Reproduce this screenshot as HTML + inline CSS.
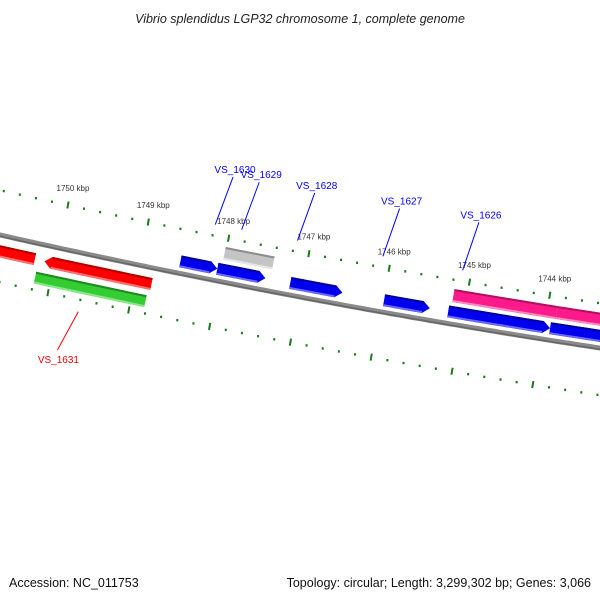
<!DOCTYPE html>
<html><head><meta charset="utf-8"><style>
body{margin:0;background:#fff;}
svg{display:block;font-family:"Liberation Sans",sans-serif;}
</style></head><body>
<svg id="map" width="600" height="600" viewBox="0 0 600 600">
<text x="300" y="23" text-anchor="middle" font-size="12.5" font-style="italic" fill="#222">Vibrio splendidus LGP32 chromosome 1, complete genome</text>
<text x="9" y="587" font-size="12.5" fill="#111">Accession: NC_011753</text>
<text x="591" y="587" text-anchor="end" font-size="12.5" fill="#111">Topology: circular; Length: 3,299,302 bp; Genes: 3,066</text>
<g id="ticks"></g><g id="backbone"></g><g id="feats"></g><g id="labels"></g>
</svg>
<script>
const tickLabels=[1750,1749,1748,1747,1746,1745,1744];
const featStart=[1750.85,1750.25,1750.32,1748.63,1748.17,1748.12,1747.26,1746.09,1745.26,1743.97,1745.29,1744.02];
const featEnd=[1750.37,1748.92,1748.95,1748.17,1747.57,1747.51,1746.61,1745.52,1743.97,1743.13,1744.02,1743.13];
const featTrack=["rev1","rev1","rev2","fwd1","fwd1","fwd2","fwd1","fwd1","fwd2","fwd2","fwd1","fwd1"];
const featColor=["red","red","green","blue","blue","gray","blue","blue","pink","pink","blue","blue"];
const featArrow=["none","left","none","right","right","none","right","right","none","none","right","none"];
const geneNames=["VS_1630","VS_1629","VS_1628","VS_1627","VS_1626","VS_1631"];
const genePos=[1748.3,1747.97,1747.27,1746.2,1745.2,1749.72];
const geneColor=["#0000ff","#0000ff","#0000ff","#0000ff","#0000ff","#ff0000"];

const NS="http://www.w3.org/2000/svg";
const svg=document.getElementById('map');
function X(k){return 68+(1750-k)*80.3;}
function f(x){return 235+0.225*x-6.1e-5*x*x;}
function fp(x){return 0.225-2*6.1e-5*x;}
function P(x,off){const d=fp(x),l=Math.hypot(1,d);return [x+(-d/l)*off,f(x)+(1/l)*off];}
function mk(tag,parent,attrs){const e=document.createElementNS(NS,tag);for(const k in attrs)e.setAttribute(k,attrs[k]);parent.appendChild(e);return e;}

// backbone
const bb=document.getElementById('backbone');
let d='';for(let x=-10;x<=610;x+=5){const p=P(x,0);d+=(x===-10?'M':'L')+p[0].toFixed(1)+','+p[1].toFixed(1);}
const b1=mk('path',bb,{d:d,stroke:'#8a8a8a','stroke-width':5,fill:'none'});


let d2='';for(let x=-10;x<=610;x+=5){const p=P(x,1.2);d2+=(x===-10?'M':'L')+p[0].toFixed(1)+','+p[1].toFixed(1);}
mk('path',bb,{d:d2,stroke:'#666','stroke-width':1.5,fill:'none'});

// ticks
const tg=document.getElementById('ticks');
for(let i=0;i<=40;i++){
  const k=1750.8-i*0.2;const major=Math.abs(k-Math.round(k))<0.01;
  const rings=[[X(k),-45],[48+(1750-k)*80.8,47]];
  rings.forEach((r,ri)=>{
    const x=r[0];if(x<-5||x>605)return;const y=f(x)+r[1];
    if(major){const t=mk('line',tg,{x1:x+0.6,y1:y-3.5,x2:x-0.6,y2:y+3.5,stroke:'#1a7a1a','stroke-width':2});
      
      }
    else{const t=mk('rect',tg,{x:x-1,y:y-1,width:2,height:2.4,fill:'#1a7a1a'});
      
      }
  });
}
tickLabels.forEach(k=>{const x=X(k);const t=mk('text',tg,{x:x+5,y:f(x)-45-14,'text-anchor':'middle','font-size':8,fill:'#333'});
  t.textContent=k+' kbp';
  
  });

// features
const trackOff={fwd1:[-18,-6],fwd2:[-35,-22],rev1:[10,22],rev2:[28,40]};
const cols={red:['#ff0000','#b00000','#ff7070'],green:['#33cc33','#1f8a1f','#88e888'],blue:['#0000ee','#00009a','#6a6aff'],gray:['#c4c4c4','#8c8c8c','#e6e6e6'],pink:['#ff1a8c','#b0105e','#ff88c0']};
const fg=document.getElementById('feats');
featStart.forEach((s,i)=>{
  let xa=X(s),xb=X(featEnd[i]);const [o1,o2]=trackOff[featTrack[i]];const om=(o1+o2)/2;const c=cols[featColor[i]];
  const ah=7;const a=featArrow[i];
  const ba=a==='left'?xa+ah:xa, be=a==='right'?xb-ah:xb;
  const pts=[];
  for(let x=ba;x<be;x+=4)pts.push(P(x,o1));pts.push(P(be,o1));
  if(a==='right')pts.push(P(xb,om));
  pts.push(P(be,o2));
  for(let x=be-4;x>ba;x-=4)pts.push(P(x,o2));pts.push(P(ba,o2));
  if(a==='left')pts.push(P(xa,om));
  const poly=mk('polygon',fg,{points:pts.map(p=>p[0].toFixed(1)+','+p[1].toFixed(1)).join(' '),fill:c[0]});
  
  
  const p1=P(ba,o1+1),p2=P(be,o1+1),p3=P(ba,o2-1),p4=P(be,o2-1);
  mk('line',fg,{x1:p1[0],y1:p1[1],x2:p2[0],y2:p2[1],stroke:c[1],'stroke-width':2});
  mk('line',fg,{x1:p3[0],y1:p3[1],x2:p4[0],y2:p4[1],stroke:c[2],'stroke-width':2});
});

// gene labels
const lg=document.getElementById('labels');
geneNames.forEach((n,i)=>{
  const x=X(genePos[i]);const below=geneColor[i]==='#ff0000';
  const p0=P(x,below?58:-55),p1=below?P(x-12,100):P(x+8,-105);
  const ln=mk('line',lg,{x1:p0[0],y1:p0[1],x2:p1[0],y2:p1[1],stroke:geneColor[i],'stroke-width':1});
  
  
  const t=mk('text',lg,{x:p1[0]+(below?1:2),y:below?p1[1]+13:p1[1]-4,'text-anchor':'middle','font-size':10,fill:geneColor[i]});
  t.textContent=n;
  
  
});
</script>
</body></html>
